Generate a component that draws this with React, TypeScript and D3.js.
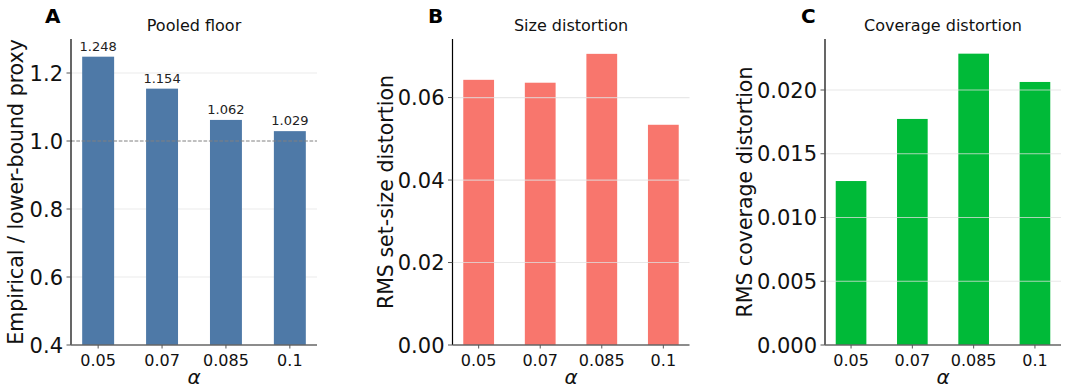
import * as d3 from "d3";

const alphas = ["0.05", "0.07", "0.085", "0.1"];
const pooledFloor = [1.248, 1.154, 1.062, 1.029];
const sizeDistortion = [0.0643, 0.0636, 0.0706, 0.0534];
const coverageDistortion = [0.01286, 0.01773, 0.02285, 0.02063];

const ticksA = [0.4, 0.6, 0.8, 1.0, 1.2];
const ticksB = [0, 0.02, 0.04, 0.06];
const ticksC = [0, 0.005, 0.01, 0.015, 0.02];

const W = 1065;
const H = 389;
const TOP = 39;
const BOTTOM = 345;
const FONT = "DejaVu Sans, sans-serif";

type PanelProps = {
  letter: string;
  title: string;
  ylabel: string;
  left: number;
  right: number;
  values: number[];
  domain: [number, number];
  ticks: number[];
  tickFmt: (v: number) => string;
  color: string;
  labelX: number;
  letterX: number;
  gridOnTop?: boolean;
  annotate?: boolean;
  refLine?: number;
};

function Panel(p: PanelProps) {
  const x = d3.scaleLinear().domain([-0.425, 3.425]).range([p.left, p.right]);
  const y = d3.scaleLinear().domain(p.domain).range([BOTTOM, TOP]);
  const bw = x(0.5) - x(0);
  const midY = (TOP + BOTTOM) / 2;

  const grid = (
    <g>
      {p.ticks
        .filter((t) => t !== p.domain[0] && t !== p.refLine)
        .map((t) => (
          <line
            key={"g" + t}
            x1={p.left}
            x2={p.right}
            y1={y(t)}
            y2={y(t)}
            stroke="#e0e0e0"
            strokeOpacity={p.gridOnTop ? 0.75 : 0.6}
            strokeWidth={1.2}
          />
        ))}
    </g>
  );

  return (
    <g>
      {!p.gridOnTop && grid}
      {p.values.map((v, i) => (
        <rect
          key={i}
          x={x(i) - bw / 2}
          width={bw}
          y={y(v)}
          height={BOTTOM - y(v)}
          fill={p.color}
        />
      ))}
      {p.gridOnTop && grid}
      {p.refLine !== undefined && (
        <line
          x1={p.left}
          x2={p.right}
          y1={y(p.refLine)}
          y2={y(p.refLine)}
          stroke="#808080"
          strokeWidth={1}
          strokeDasharray="3.7,1.6"
        />
      )}
      {p.annotate &&
        p.values.map((v, i) => (
          <text
            key={"a" + i}
            x={x(i)}
            y={y(v) - 6}
            textAnchor="middle"
            fontSize={13}
            fontFamily={FONT}
            fill="#222"
          >
            {v.toFixed(3)}
          </text>
        ))}
      {/* spines */}
      <line x1={p.left} x2={p.left} y1={TOP} y2={BOTTOM} stroke="#000" strokeWidth={1.2} />
      <line x1={p.left} x2={p.right} y1={BOTTOM} y2={BOTTOM} stroke="#666" strokeWidth={1.5} />
      {/* y ticks */}
      {p.ticks.map((t) => (
        <g key={"t" + t}>
          <line x1={p.left - 4.5} x2={p.left} y1={y(t)} y2={y(t)} stroke="#555" strokeWidth={1} />
          <text
            x={p.left - 8}
            y={y(t)}
            dy="0.36em"
            textAnchor="end"
            fontSize={21}
            fontFamily={FONT}
            fill="#111"
          >
            {p.tickFmt(t)}
          </text>
        </g>
      ))}
      {/* x ticks */}
      {alphas.map((a, i) => (
        <g key={"x" + a}>
          <line x1={x(i)} x2={x(i)} y1={BOTTOM} y2={BOTTOM + 3.5} stroke="#555" strokeWidth={1} />
          <text
            x={x(i)}
            y={BOTTOM + 21}
            textAnchor="middle"
            fontSize={16}
            fontFamily={FONT}
            fill="#111"
          >
            {a}
          </text>
        </g>
      ))}
      <text
        x={(p.left + p.right) / 2}
        y={384}
        textAnchor="middle"
        fontSize={20}
        fontStyle="italic"
        fontFamily={FONT}
        fill="#111"
      >
        α
      </text>
      <text
        transform={`translate(${p.labelX},${midY}) rotate(-90)`}
        dy="0.36em"
        textAnchor="middle"
        fontSize={20.5}
        fontFamily={FONT}
        fill="#111"
      >
        {p.ylabel}
      </text>
      <text
        x={(p.left + p.right) / 2}
        y={31}
        textAnchor="middle"
        fontSize={16}
        fontFamily={FONT}
        fill="#111"
      >
        {p.title}
      </text>
      <text x={p.letterX} y={23} fontSize={20} fontWeight="bold" fontFamily={FONT} fill="#000">
        {p.letter}
      </text>
    </g>
  );
}

export default function App() {
  return (
    <svg
      width={W}
      height={H}
      viewBox={`0 0 ${W} ${H}`}
      style={{ position: "absolute", left: 0, top: 0, background: "#fff" }}
    >
      <rect width={W} height={H} fill="#fff" />
      <Panel
        letter="A"
        title="Pooled floor"
        ylabel="Empirical / lower-bound proxy"
        left={71}
        right={317}
        values={pooledFloor}
        domain={[0.4, 1.3]}
        ticks={ticksA}
        tickFmt={(v) => v.toFixed(1)}
        color="#4e79a7"
        labelX={16}
        letterX={45}
        annotate
        refLine={1.0}
      />
      <Panel
        letter="B"
        title="Size distortion"
        ylabel="RMS set-size distortion"
        left={452.5}
        right={689.5}
        values={sizeDistortion}
        domain={[0, 0.0742]}
        ticks={ticksB}
        tickFmt={(v) => v.toFixed(2)}
        color="#f8766d"
        labelX={386}
        letterX={428}
        gridOnTop
      />
      <Panel
        letter="C"
        title="Coverage distortion"
        ylabel="RMS coverage distortion"
        left={825}
        right={1061}
        values={coverageDistortion}
        domain={[0, 0.024]}
        ticks={ticksC}
        tickFmt={(v) => v.toFixed(3)}
        color="#00ba38"
        labelX={745}
        letterX={801}
        gridOnTop
      />
    </svg>
  );
}
